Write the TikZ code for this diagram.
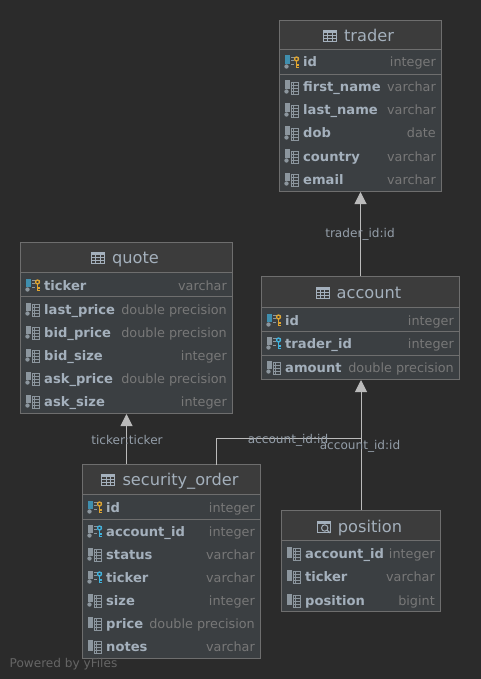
\documentclass[tikz,border=0pt]{standalone}
\usepackage{fontspec}
\setmainfont{DejaVu Sans}
\usetikzlibrary{arrows.meta,positioning,calc}
\definecolor{bgdark}{HTML}{2B2B2B}
\definecolor{boxfill}{HTML}{3B3F42}
\definecolor{headfill}{HTML}{3C3C3C}
\definecolor{boxline}{HTML}{6E6E6E}
\definecolor{titletxt}{HTML}{A4B0BC}
\definecolor{coltxt}{HTML}{A4B0BC}
\definecolor{typetxt}{HTML}{787878}
\definecolor{linkline}{HTML}{BBBBBB}
\definecolor{barblue}{HTML}{3F8FAF}
\definecolor{bargray}{HTML}{8C969E}
\definecolor{keygold}{HTML}{E0A530}
\definecolor{keyblue}{HTML}{3FB4E0}
\tikzset{>={Triangle[length=12pt,width=12pt]},
	tablebox/.style={draw=boxline,line width=1pt,fill=boxfill,inner sep=0pt},
	titlelab/.style={inner sep=0pt,anchor=base,text=titletxt,font=\fontsize{16.2}{18}\selectfont},
	colname/.style={inner sep=0pt,anchor=base west,text=coltxt,font=\fontsize{13.1}{15}\selectfont\bfseries},
	coltype/.style={inner sep=0pt,anchor=base east,text=typetxt,font=\fontsize{12.8}{15}\selectfont},
	linklab/.style={inner sep=0pt,text=titletxt!90!black,font=\fontsize{12.1}{14}\selectfont},
	linkpath/.style={draw=linkline,line width=1pt},
	pics/gridicon/.style={code={
		\draw[bargray,line width=0.9pt] (0,-3.5) rectangle (7.5,8.5);
		\draw[bargray,line width=0.9pt] (0,0) -- (7.5,0) (0,3) -- (7.5,3) (0,6) -- (7.5,6) (2.6,-3.5) -- (2.6,8.5);}},
	pics/titleicon/.style={code={
		\draw[titletxt,line width=0.8pt] (-6.5,-5.5) rectangle (6.5,5.5);
		\fill[titletxt] (-6.5,-5.5) rectangle (6.5,-2.5);
		\draw[titletxt,line width=0.6pt] (-6.5,0) -- (6.5,0) (-6.5,2.8) -- (6.5,2.8) (-2.2,-2.5) -- (-2.2,5.5) (2.2,-2.5) -- (2.2,5.5);}},
	pics/viewicon/.style={code={
		\draw[titletxt,line width=0.8pt] (-6.5,-5.5) rectangle (6.5,5.5);
		\fill[titletxt] (-6.5,-5.5) rectangle (6.5,-2.5);
		\draw[titletxt,line width=1pt,fill=headfill] (1,1.5) circle (3.2);
		\draw[titletxt,line width=1.2pt] (3.4,3.8) -- (6.5,6.5);}},
	pics/plaincol/.style={code={
		\fill[bargray] (0.3,-6.5) rectangle (4.7,5);
		\pic at (6,-1.5) {gridicon};}},
	pics/notnull/.style={code={
		\fill[bargray] (0.3,-6.5) rectangle (4.7,2);
		\fill[bargray] (1.5,4.5) circle (2.2);
		\pic at (6,-1.5) {gridicon};}},
	pics/keycol/.style={code={
		\fill[#1] (0.3,-6.5) rectangle (4.7,2);
		\fill[bargray] (1.5,4.5) circle (2.2);
		\draw[bargray,line width=0.8pt] (6,-5) -- (13.5,-5) (6,-1.5) -- (9,-1.5) (6,2) -- (9,2);}},
	pics/keyglyph/.style={code={
		\draw[#1,line width=1.3pt] (0,-3) circle (2);
		\draw[#1,line width=1.6pt] (0,-1) -- (0,6) (0,3) -- (2,3) (0,5.5) -- (2,5.5);}}
}
% one row of a table: name, left, right, y, icon, column, type
\newcommand{\dbrow}[7]{
	\pic at (#2+5,#4) {#5};
	\node (#1n) at (#2+23,#4+5) [colname] {#6};
	\node (#1t) at (#3-5,#4+5) [coltype] {#7};
}
\begin{document}
\begin{tikzpicture}[x=1pt,y=-1pt]
	\useasboundingbox[fill=bgdark] (0,0) rectangle (481,679);
	% connectors go first, the labels go on top
	\node (trader) at (360.5,106) [tablebox,minimum width=162pt,minimum height=171pt] {};
	\node (quote) at (126.5,328) [tablebox,minimum width=212pt,minimum height=171pt] {};
	\node (account) at (360.5,328) [tablebox,minimum width=198pt,minimum height=103pt] {};
	\node (order) at (171.5,561.5) [tablebox,minimum width=178pt,minimum height=194pt] {};
	\node (position) at (361,561) [tablebox,minimum width=159pt,minimum height=101pt] {};
	\coordinate (bend1) at (216,438);
	\coordinate (bend2) at (361,438);
	\coordinate (orderout) at (216,464.5);
	\draw[linkpath,->] (account.north) -- (trader.south);
	\draw[linkpath,->] (position.north) -- (account.south -| position.north);
	\draw[linkpath] (orderout) -- (bend1) -- (bend2);
	\draw[linkpath,->] (order.north -| quote.south) -- (quote.south);
	% headers
	\fill[headfill] (280,21) rectangle (441,50);
	\fill[headfill] (21,243) rectangle (232,272);
	\fill[headfill] (262,277) rectangle (459,307);
	\fill[headfill] (83,465) rectangle (260,494);
	\fill[headfill] (282,511) rectangle (440,540);
	\draw[boxline,line width=1pt] (279.5,50) -- (441.5,50) (279.5,74.5) -- (441.5,74.5);
	\draw[boxline,line width=1pt] (20.5,272) -- (232.5,272) (20.5,296.5) -- (232.5,296.5);
	\draw[boxline,line width=1pt] (261.5,307) -- (459.5,307) (261.5,331.5) -- (459.5,331.5) (261.5,355) -- (459.5,355);
	\draw[boxline,line width=1pt] (82.5,494) -- (260.5,494) (82.5,519) -- (260.5,519);
	\draw[boxline,line width=1pt] (281.5,540) -- (440.5,540);
	\node (tradertitle) at (369,41.5) [titlelab] {trader};
	\node (quotetitle) at (135.5,263.5) [titlelab] {quote};
	\node (accounttitle) at (369,298.5) [titlelab] {account};
	\node (ordertitle) at (180.5,485.5) [titlelab] {security\_order};
	\node (positiontitle) at (370,532.5) [titlelab] {position};
	\pic at ([xshift=-14pt]tradertitle.west |- 0,35.5) {titleicon};
	\pic at ([xshift=-14pt]quotetitle.west |- 0,257.5) {titleicon};
	\pic at ([xshift=-14pt]accounttitle.west |- 0,292.5) {titleicon};
	\pic at ([xshift=-14pt]ordertitle.west |- 0,479.5) {titleicon};
	\pic at ([xshift=-14pt]positiontitle.west |- 0,526.5) {viewicon};
	% trader
	\dbrow{tid}{280}{441}{62}{keycol=barblue}{id}{integer}
	\pic at (296.5,62) {keyglyph=keygold};
	\dbrow{tfirst}{280}{441}{87}{notnull}{first\_name}{varchar}
	\dbrow{tlast}{280}{441}{110}{notnull}{last\_name}{varchar}
	\dbrow{tdob}{280}{441}{133}{notnull}{dob}{date}
	\dbrow{tcountry}{280}{441}{156}{notnull}{country}{varchar}
	\dbrow{temail}{280}{441}{179}{notnull}{email}{varchar}
	% quote
	\dbrow{qticker}{21}{232}{285}{keycol=barblue}{ticker}{varchar}
	\pic at (37.5,285) {keyglyph=keygold};
	\dbrow{qlast}{21}{232}{309}{notnull}{last\_price}{double precision}
	\dbrow{qbid}{21}{232}{332}{notnull}{bid\_price}{double precision}
	\dbrow{qbsize}{21}{232}{355}{notnull}{bid\_size}{integer}
	\dbrow{qask}{21}{232}{378}{notnull}{ask\_price}{double precision}
	\dbrow{qasize}{21}{232}{401}{notnull}{ask\_size}{integer}
	% account
	\dbrow{aid}{262}{459}{320}{keycol=barblue}{id}{integer}
	\pic at (278.5,320) {keyglyph=keygold};
	\dbrow{atrader}{262}{459}{343}{keycol=bargray}{trader\_id}{integer}
	\pic at (278.5,343) {keyglyph=keyblue};
	\dbrow{aamount}{262}{459}{367}{notnull}{amount}{double precision}
	% security_order
	\dbrow{oid}{83}{260}{507}{keycol=barblue}{id}{integer}
	\pic at (99.5,507) {keyglyph=keygold};
	\dbrow{oaccount}{83}{260}{531}{keycol=bargray}{account\_id}{integer}
	\pic at (99.5,531) {keyglyph=keyblue};
	\dbrow{ostatus}{83}{260}{554}{notnull}{status}{varchar}
	\dbrow{oticker}{83}{260}{577}{keycol=bargray}{ticker}{varchar}
	\pic at (99.5,577) {keyglyph=keyblue};
	\dbrow{osize}{83}{260}{600}{notnull}{size}{integer}
	\dbrow{oprice}{83}{260}{623}{plaincol}{price}{double precision}
	\dbrow{onotes}{83}{260}{646}{plaincol}{notes}{varchar}
	% position
	\dbrow{paccount}{282}{440}{553}{plaincol}{account\_id}{integer}
	\dbrow{pticker}{282}{440}{576}{plaincol}{ticker}{varchar}
	\dbrow{pposition}{282}{440}{600}{plaincol}{position}{bigint}
	% link labels
	\node (lab1) at (360,234.5) [linklab] {trader\_id:id};
	\node (lab2) at (127,439.5) [linklab] {ticker:ticker};
	\node (lab3) at (288,440.5) [linklab] {account\_id:id};
	\node (lab4) at (360,446.5) [linklab] {account\_id:id};
	\node (yfiles) at (63.5,664.5) [inner sep=0pt,text=typetxt!85!black,font=\fontsize{12.1}{14}\selectfont] {Powered by yFiles};
\end{tikzpicture}
\end{document}
